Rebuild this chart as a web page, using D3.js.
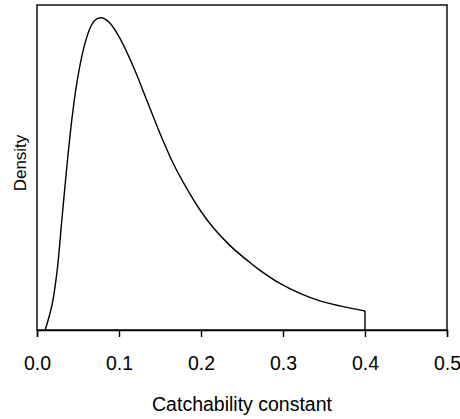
<!DOCTYPE html>
<html>
<head>
<meta charset="utf-8">
<script src="https://cdn.jsdelivr.net/npm/d3@7"></script>
<style>
  body { margin: 0; background: #fff; }
  text { font-family: "Liberation Sans", Arial, sans-serif; fill: #000; }
</style>
</head>
<body>
<div id="chart"></div>
<script>
// catchability values (x)
var catchability = [0.010, 0.0183, 0.0244, 0.0305, 0.0366, 0.0427, 0.0488, 0.057, 0.065, 0.071,
    0.0772, 0.083, 0.0894, 0.1012, 0.1174, 0.1338, 0.150, 0.1662, 0.1826, 0.1988,
    0.215, 0.2354, 0.2577, 0.272, 0.2963, 0.3207, 0.3451, 0.3695, 0.400, 0.400];
// density at each x
var density = [0.0, 0.8, 1.86, 3.58, 5.28, 6.78, 7.94, 9.02, 9.68, 9.92,
    9.99, 9.95, 9.81, 9.33, 8.43, 7.36, 6.29, 5.33, 4.53, 3.84,
    3.27, 2.70, 2.20, 1.91, 1.49, 1.17, 0.93, 0.77, 0.61, 0.0];
var xTicks = [0, 0.1, 0.2, 0.3, 0.4, 0.5];

function init() {
    var w = 460;
    var h = 419;
    var left = 37, right = 447, top = 5, bottom = 330;

    var svg = d3.select("#chart")
        .append("svg")
        .attr("width", w)
        .attr("height", h);

    var xScale = d3.scaleLinear()
        .domain([0, 0.5])
        .range([left, right]);

    var yScale = d3.scaleLinear()
        .domain([0, 10.4])
        .range([bottom, top]);

    var data = catchability.map(function(d, i) { return { x: d, y: density[i] }; });

    // box
    svg.append("rect")
        .attr("x", left)
        .attr("y", top)
        .attr("width", right - left)
        .attr("height", bottom - top)
        .attr("fill", "none")
        .attr("stroke", "#000")
        .attr("stroke-width", 1.4);

    // density curve (last point drops to zero at the upper bound)
    var line = d3.line()
        .x(function(d) { return xScale(d.x); })
        .y(function(d) { return yScale(d.y); })
        .curve(d3.curveCatmullRom.alpha(0.5));

    svg.append("path")
        .datum(data.slice(0, data.length - 1))
        .attr("d", line)
        .attr("fill", "none")
        .attr("stroke", "#000")
        .attr("stroke-width", 1.4);

    svg.append("path")
        .datum(data.slice(data.length - 2))
        .attr("d", d3.line()
            .x(function(d) { return xScale(d.x); })
            .y(function(d) { return yScale(d.y); }))
        .attr("fill", "none")
        .attr("stroke", "#000")
        .attr("stroke-width", 1.4);

    // x axis
    var xAxis = svg.append("g")
        .attr("transform", "translate(0," + bottom + ")")
        .call(d3.axisBottom(xScale)
            .tickValues(xTicks)
            .tickFormat(d3.format(".1f"))
            .tickSize(7)
            .tickPadding(19));
    xAxis.select(".domain").attr("stroke-width", 1.4);
    xAxis.selectAll(".tick line").attr("stroke-width", 1.4);
    xAxis.selectAll(".tick text")
        .attr("font-size", "19.5px")
        .attr("font-family", "Liberation Sans, Arial, sans-serif");

    // axis titles
    svg.append("text")
        .attr("x", (left + right) / 2)
        .attr("y", 411)
        .attr("text-anchor", "middle")
        .attr("font-size", "19.5px")
        .text("Catchability constant");

    svg.append("text")
        .attr("transform", "translate(26,163) rotate(-90)")
        .attr("text-anchor", "middle")
        .attr("font-size", "17px")
        .text("Density");
}

window.onload = init;
</script>
</body>
</html>
